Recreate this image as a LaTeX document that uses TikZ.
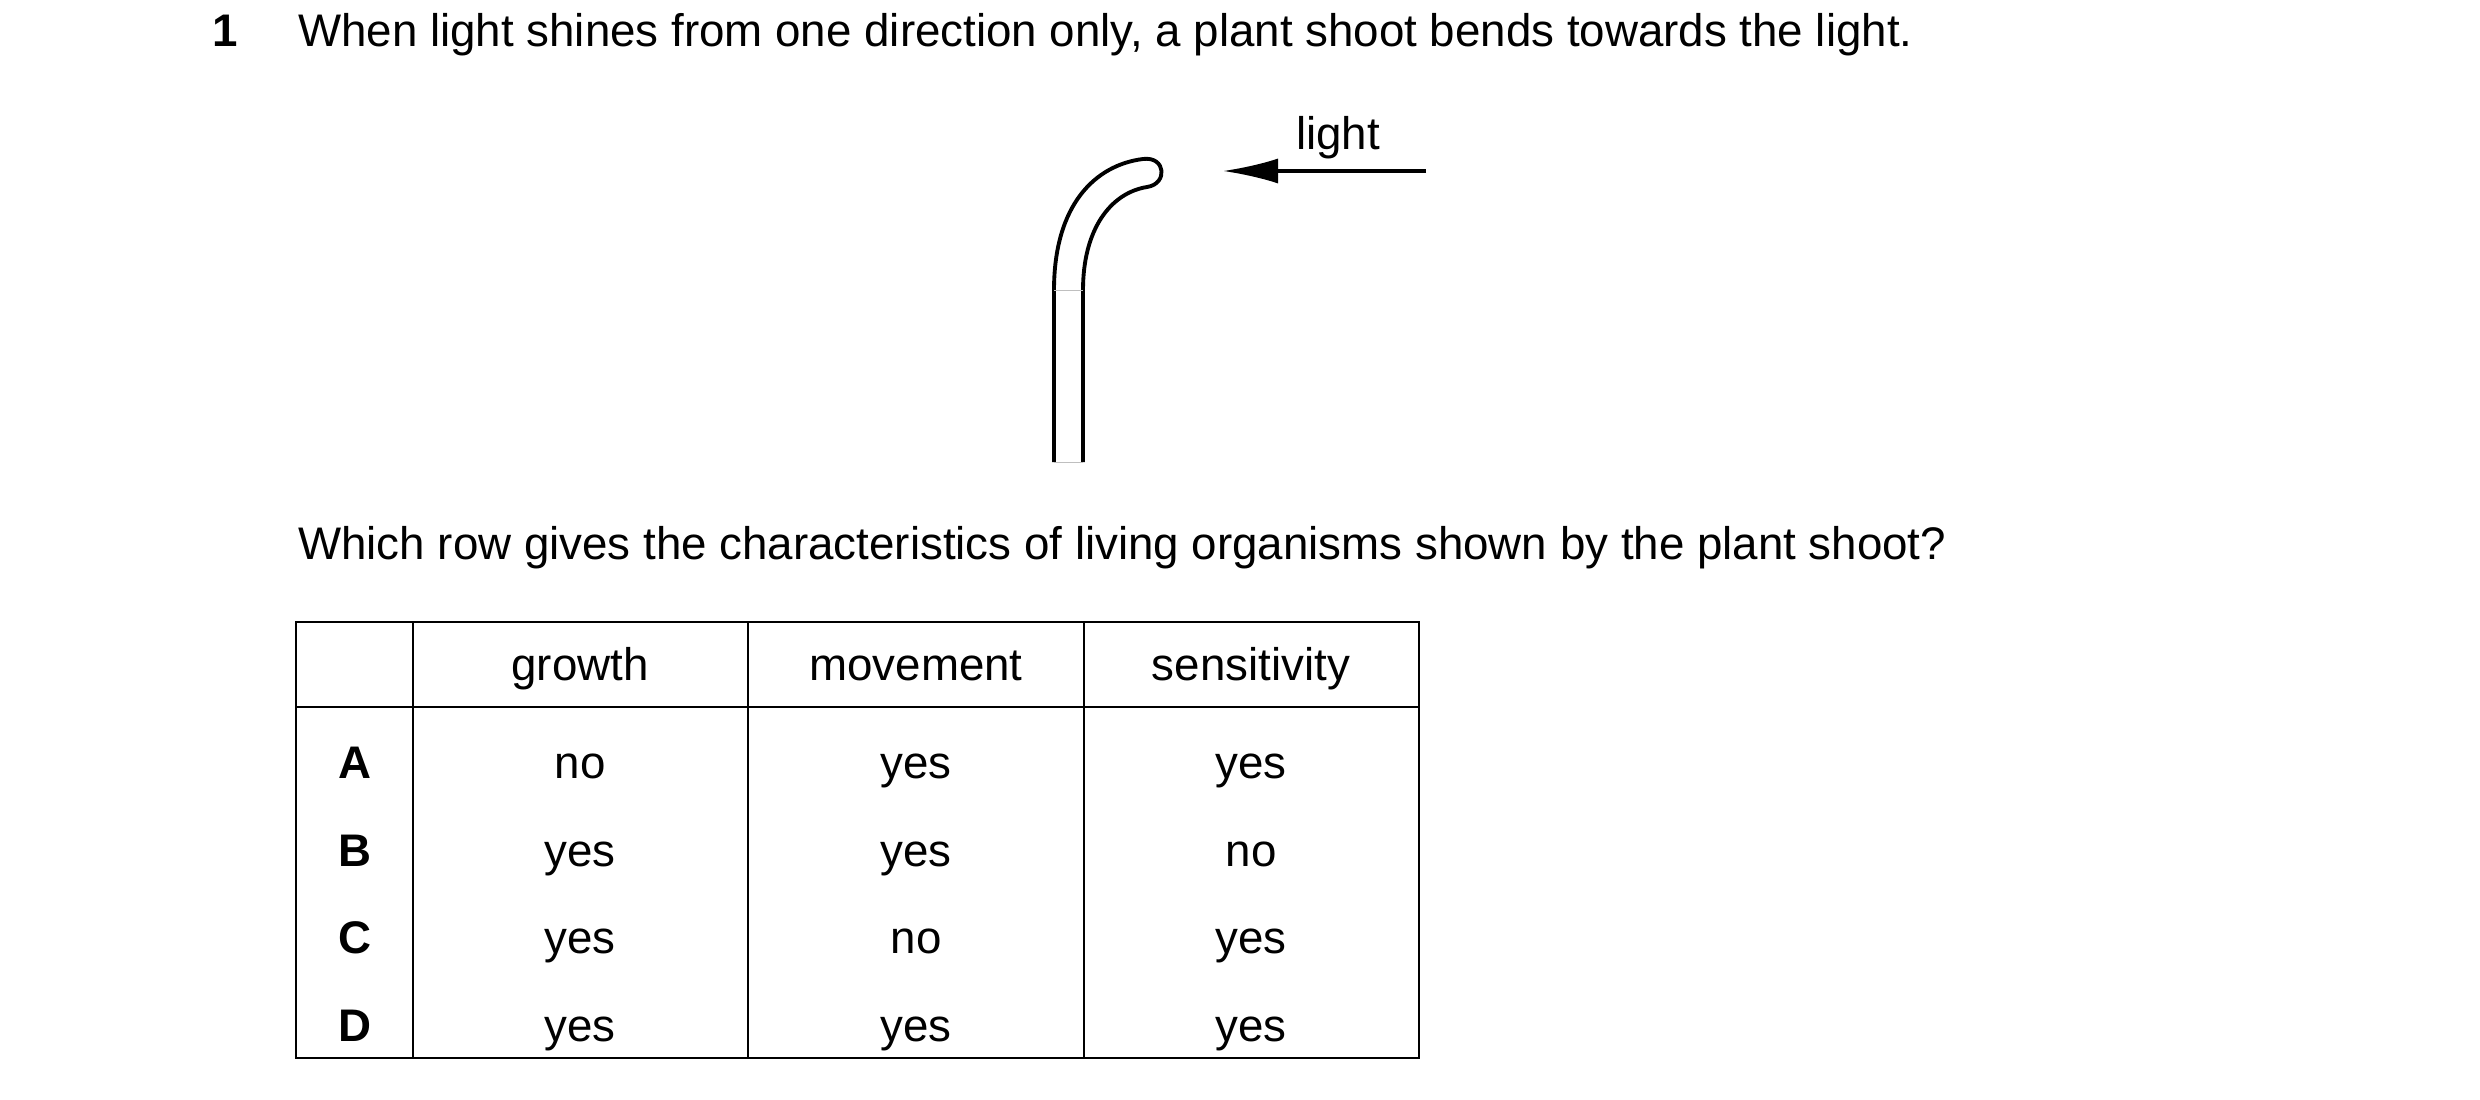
\documentclass[tikz,border=0pt]{standalone}
\usepackage{fontspec}
\setmainfont{Liberation Sans}
\usetikzlibrary{arrows.meta}
\tikzset{
txt/.style={anchor=base west,font=\fontsize{26}{30}\selectfont},
cell/.style={anchor=base,font=\fontsize{26}{30}\selectfont},
}
\begin{document}
\begin{tikzpicture}[x=0.2mm,y=-0.2mm]
\useasboundingbox (0,0) rectangle (2480,1100);
\node[txt,font=\fontsize{26}{30}\selectfont\bfseries] (num) at (206,47) {1};
\node[txt] (stem) at (292,47) {When light shines from one direction only, a plant shoot bends towards the light.};
\node[txt] (quest) at (292,559) {Which row gives the characteristics of living organisms shown by the plant shoot?};

% shoot
\draw[line width=2.2pt,line join=round] (1054,462) -- (1054,290)
  .. controls (1054,205) and (1095,165) .. (1143,159)
  .. controls (1166,156) and (1168,184) .. (1147,187)
  .. controls (1110,193) and (1083,230) .. (1083,290) -- (1083,462);
\draw[very thin,black!25] (1054,462) -- (1083,462) (1054,290) -- (1083,290);

% light
\node[cell] (light) at (1338,150) {light};
\coordinate (lt) at (1426,171);
\coordinate (lh) at (1223,171);
\draw[line width=1.8pt,-{Latex[length=11mm,width=5mm]}] (lt) -- (lh);

% table
\draw[line width=1.2pt] (296,622) rectangle (1419,1058);
\draw[line width=1.2pt] (296,707) -- (1419,707);
\foreach \x in {413,748,1084} {
\draw[line width=1.2pt] (\x,622) -- (\x,1058);
}
\node[cell] (h1) at (580,680) {growth};
\node[cell] (h2) at (916,680) {movement};
\node[cell] (h3) at (1251,680) {sensitivity};
\foreach \l/\y/\a/\b/\c in {A/778/no/yes/yes, B/866/yes/yes/no, C/953/yes/no/yes, D/1041/yes/yes/yes} {
\node[cell,font=\fontsize{26}{30}\selectfont\bfseries] (row\l) at (355,\y) {\l};
\node[cell] (g\l) at (580,\y) {\a};
\node[cell] (m\l) at (916,\y) {\b};
\node[cell] (s\l) at (1251,\y) {\c};
}
\end{tikzpicture}
\end{document}
